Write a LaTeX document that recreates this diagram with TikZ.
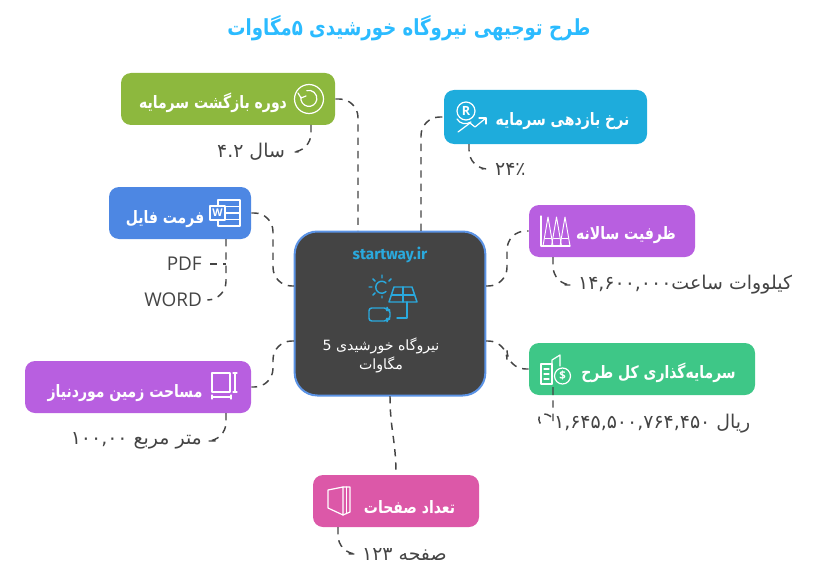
\documentclass[tikz,border=0pt]{standalone}
\usepackage{fontspec}
\setmainfont{Open Sans}
\newfontfamily\arabicfont[Script=Arabic]{DejaVu Sans}
\newfontfamily\sitefont{Fira Sans}
\TeXXeTstate=1
\newcommand{\fa}[1]{\arabicfont\beginR #1\endR}
\newcommand{\fatall}[1]{\scalebox{1}[1.22]{\fa{#1}}}
\newcommand{\num}[1]{\beginL #1\endL{}}
\definecolor{hubgray}{HTML}{444444}
\definecolor{hubline}{HTML}{5B93E5}
\definecolor{titleblue}{HTML}{2BBBFF}
\definecolor{siteblue}{HTML}{2AA9DD}
\definecolor{paygreen}{HTML}{8DB83E}
\definecolor{rateblue}{HTML}{1EACDC}
\definecolor{lilac}{HTML}{B85FE0}
\definecolor{invgreen}{HTML}{3EC787}
\definecolor{fmtblue}{HTML}{4D87E3}
\definecolor{pagepink}{HTML}{DC58A8}
\tikzset{
  tag/.style={rounded corners=7.5pt, inner sep=0pt, minimum height=39pt},
  tagtext/.style={text=white, font=\fontsize{10.5}{12}\selectfont\bfseries, inner sep=0pt},
  leaf/.style={text=hubgray, font=\fontsize{14.2}{16}\selectfont, inner xsep=10pt, inner ysep=0pt},
  link/.style={draw=hubgray, line width=1.1pt, dash pattern=on 5.5pt off 4.5pt, rounded corners=14pt},
  icon/.style={draw=white, line width=0.9pt, line join=round, line cap=round},
  hubicon/.style={draw=siteblue, line width=1.1pt, line join=round, line cap=round},
}
\begin{document}
\begin{tikzpicture}[x=0.75pt,y=-0.75pt]
  \useasboundingbox (0,0) rectangle (823,574);
  \node [text=titleblue, font=\fontsize{13.6}{18}\selectfont\bfseries, inner sep=0pt] (title) at (409,28)
    {\fatall{طرح توجیهی نیروگاه خورشیدی \num{۵}مگاوات}};

  \node [fill=hubgray, draw=hubline, line width=1.5pt, rounded corners=17pt, minimum width=143pt, minimum height=123pt, inner sep=0pt] (hub) at (390,313.5) {};
  \node [text=siteblue, font=\sitefont\fontsize{11.5}{14}\selectfont\bfseries, inner sep=0pt] (site) at (390,255) {startway.ir};
  \node [text=white, font=\fontsize{10.6}{14.3}\selectfont, align=center, inner sep=0pt] (hubtext) at (381,355)
    {\fa{نیروگاه خورشیدی \num{5}}\\\fa{مگاوات}};

  \node [tag, fill=paygreen, minimum width=160.5pt] (pay) at (228,99) {};
  \node [tagtext] (paytext) at (213,103) {\fatall{دوره بازگشت سرمایه}};
  \node [tag, fill=rateblue, minimum width=152.25pt, minimum height=40.5pt] (rate) at (545.5,117) {};
  \node [tagtext] (ratetext) at (562.5,121) {\fatall{نرخ بازدهی سرمایه}};
  \node [tag, fill=lilac, minimum width=124.5pt] (cap) at (612,231) {};
  \node [tagtext] (captext) at (626,235) {\fatall{ظرفیت سالانه}};
  \node [tag, fill=invgreen, minimum width=169.5pt] (inv) at (642,369) {};
  \node [tagtext] (invtext) at (658.5,373) {\fatall{سرمایه‌گذاری کل طرح}};
  \node [tag, fill=lilac, minimum width=169.5pt] (area) at (138,387) {};
  \node [tagtext] (areatext) at (125,393) {\fatall{مساحت زمین موردنیاز}};
  \node [tag, fill=fmtblue, minimum width=106.5pt] (fmt) at (180,213) {};
  \node [tagtext] (fmttext) at (165,219) {\fatall{فرمت فایل}};
  \node [tag, fill=pagepink, minimum width=124.5pt] (page) at (396,501) {};
  \node [tagtext] (pagetext) at (409.5,507) {\fatall{تعداد صفحات}};

  \node [leaf, anchor=east] (payval) at (298.5,152) {\fa{سال \num{۴.۲}}};
  \node [leaf, anchor=west] (rateval) at (481.5,169) {\arabicfont\num{۲۴٪}};
  \node [leaf, anchor=west] (capval) at (564.5,285) {\fa{کیلووات ساعت\num{۱۴,۶۰۰,۰۰۰}}};
  \node [leaf, anchor=west] (invval) at (540.5,424) {\fa{ریال \num{۱,۶۴۵,۵۰۰,۷۶۴,۴۵۰}}};
  \node [leaf, anchor=east, inner xsep=6pt] (pdf) at (210,264) {PDF};
  \node [leaf, anchor=east] (word) at (215.5,300) {WORD};
  \node [leaf, anchor=east] (areaval) at (215.5,441) {\fa{متر مربع \num{۱۰۰,۰۰}}};
  \node [leaf, anchor=west] (pageval) at (348.5,554) {\fa{صفحه \num{۱۲۳}}};

  \coordinate (hubn1) at (358,231);
  \coordinate (hubn2) at (421,231);
  \coordinate (hubw1) at (294,286);
  \coordinate (hubw2) at (294,341);
  \coordinate (hube1) at (486,286);
  \coordinate (hube2) at (486,341);
  \coordinate (hubs) at (390,396);
  \coordinate (paydrop) at (311,125);
  \coordinate (ratedrop) at (469,144);
  \coordinate (capdrop) at (553,257);
  \coordinate (invdrop) at (553,395);
  \coordinate (fmtdrop) at (226,239);
  \coordinate (areadrop) at (226,413);
  \coordinate (pagedrop) at (338,527);
  \coordinate (fmtturn) at (226,264);
  \coordinate (pagetop) at (396,475);

  \draw [link] (pay.east) -| (hubn1);
  \draw [link] (hubn2) |- (rate.west);
  \draw [link] (fmt.east) -- (273,213) -- (273,286) -- (hubw1);
  \draw [link] (hubw2) -- (273,341) -- (273,387) -- (area.east);
  \draw [link] (hube1) -- (507,286) -- (507,231) -- (cap.west);
  \draw [link] (hube2) -- (507,341) -- (507,369) -- (inv.west);
  \draw [link] (hubs) .. controls (390,430) and (396,440) .. (pagetop);

  \draw [link] (paydrop) |- (payval.east);
  \draw [link] (ratedrop) |- (rateval.west);
  \draw [link] (capdrop) |- (capval.west);
  \draw [link] (invdrop) -- ++(0,8) .. controls (553,412) and (533,410) .. (invval.west);
  \draw [link] (pdf.east) -- (fmtturn);
  \draw [link] (fmtdrop) |- (word.east);
  \draw [link] (areadrop) |- (areaval.east);
  \draw [link] (pagedrop) |- (pageval.west);

  % icons
  \draw [icon] (309,99) circle [radius=14.5];
  \draw [icon] (301,97) arc [start angle=190, end angle=-105, radius=8];
  \draw [icon] (298,93) -- (301,98) -- (306,96);

  \draw [icon] (466,111) circle [radius=9];
  \node [text=white, font=\fontsize{9.5}{9.5}\selectfont\bfseries, inner sep=0pt] (rateR) at (466,111) {R};
  \draw [icon] (457,119) .. controls (460,124) and (466,125) .. (471,122);
  \draw [icon] (458,132) -- (470,123) -- (475,127) -- (486,118);
  \draw [icon] (479,118) -- (486,118) -- (486,124);

  \draw [icon] (541,216) -- (541,246) -- (570,246);
  \foreach \px in {548,556.5,565} {
    \draw [icon, line width=0.7pt] (\px-5,246) -- (\px,217) -- (\px+5,246);
    \draw [icon, line width=0.7pt] (\px-3,238) -- (\px+3,238);
  }

  \draw [icon] (541,384) -- (541,364) -- (552,364) -- (552,384) -- cycle;
  \draw [icon] (552,384) -- (552,360) -- (560,355) -- (560,366);
  \draw [icon] (544,369) -- (549,369) (544,374) -- (549,374) (544,379) -- (549,379);
  \draw [icon] (562.5,376) circle [radius=8];
  \node [text=white, font=\fontsize{8.5}{8.5}\selectfont\bfseries, inner sep=0pt] (invD) at (562.5,376) {\$};

  \draw [icon] (212,373) rectangle (230,392);
  \draw [icon] (235,373) -- (235,392) (233,373) -- (237,373) (233,392) -- (237,392);
  \draw [icon] (212,397) -- (231,397) (212,395) -- (212,399) (231,395) -- (231,399);

  \draw [icon] (218,200) rectangle (240,226);
  \draw [icon] (225,206.5) -- (240,206.5) (225,213) -- (240,213) (225,219.5) -- (240,219.5);
  \draw [icon, fill=fmtblue] (210,206) rectangle (225,220);
  \node [text=white, font=\fontsize{8}{8}\selectfont\bfseries, inner sep=0pt] (fmtW) at (217.5,213) {W};

  \draw [icon] (328,490) -- (343,487) -- (343,515) -- (328,508) -- cycle;
  \draw [icon] (343,487) -- (350,487) -- (350,512) -- (343,515);
  \draw [icon] (346.5,487) -- (346.5,513.5);

  \draw [hubicon] (386,283) arc [start angle=-45, end angle=-315, radius=6];
  \draw [hubicon] (382,275) -- (382,278) (373,279) -- (375,281) (369,287) -- (372,287) (373,295) -- (375,293) (382,296) -- (382,298) (391,279) -- (389,281);
  \draw [hubicon] (394,287) -- (412,287) -- (417,302) -- (389,302) -- cycle;
  \draw [hubicon] (391.5,295) -- (414.5,295) (403,287) -- (403,302);
  \draw [hubicon] (407,302) -- (407,313) -- (407,318) -- (397,318);
  \draw [hubicon, rounded corners=2pt] (369,308) -- (387,308) -- (387,310) -- (390,310) -- (390,319) -- (387,319) -- (387,321) -- (369,321) -- cycle;
\end{tikzpicture}
\end{document}
